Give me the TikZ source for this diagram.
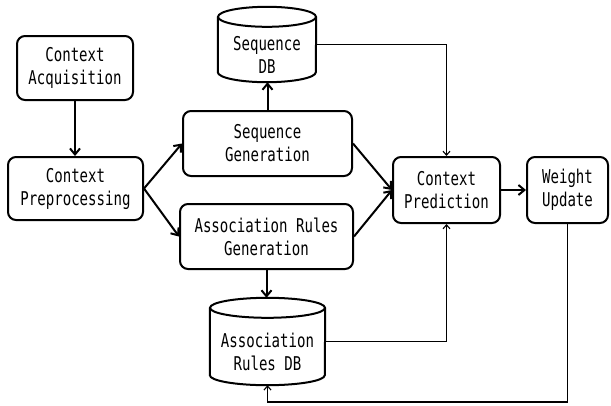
\documentclass[tikz,border=0pt]{standalone}
\usepackage{fontspec}
\newfontfamily\gothfont[FakeStretch=0.74]{DejaVu Sans Mono}
\usetikzlibrary{arrows.meta}
\begin{document}
\begin{tikzpicture}[x=1pt,y=-1pt,
  txt/.style={align=center, inner sep=0pt, font=\gothfont\fontsize{19}{23}\selectfont},
  box/.style={txt, draw, line width=2pt, rounded corners=8pt},
  cylarea/.style={draw=none, inner sep=0pt},
  cylline/.style={line width=2pt},
  thickarrow/.style={line width=2pt, -{Straight Barb[length=6pt,width=10pt]}},
  thinarrow/.style={line width=1.1pt, -{Straight Barb[length=4pt,width=7pt]}}
]
\useasboundingbox (0,0) rectangle (611,405);

\node[box, minimum width=116pt, minimum height=64pt] (acq) at (75,68) {Context\\Acquisition};
\node[box, minimum width=135pt, minimum height=63pt] (pre) at (75.5,188.5) {Context\\Preprocessing};
\node[box, minimum width=169pt, minimum height=65pt] (sg) at (267.5,143.5) {Sequence\\Generation};
\node[box, minimum width=173pt, minimum height=65pt] (ag) at (266.5,236.5) {Association Rules\\Generation};
\node[box, minimum width=107pt, minimum height=66pt] (cp) at (446.5,190) {Context\\Prediction};
\node[box, minimum width=81pt, minimum height=66pt] (wu) at (567.5,190) {Weight\\Update};

% Sequence DB cylinder
\node[cylarea, minimum width=98pt, minimum height=75pt] (sdb) at (267,44.5) {};
\draw[cylline] ([yshift=-10pt]sdb.north west) -- ([yshift=10pt]sdb.south west)
  arc[start angle=180, end angle=360, x radius=49pt, y radius=10pt]
  -- ([yshift=-10pt]sdb.north east);
\draw[cylline] ([yshift=-10pt]sdb.north) ellipse [x radius=49pt, y radius=10pt];
\node[txt] (sdbt) at ([yshift=-10pt]sdb.center) {Sequence\\DB};

% Association Rules DB cylinder
\node[cylarea, minimum width=115pt, minimum height=87pt] (adb) at (267.5,341.5) {};
\draw[cylline] ([yshift=-10pt]adb.north west) -- ([yshift=10pt]adb.south west)
  arc[start angle=180, end angle=360, x radius=57.5pt, y radius=10pt]
  -- ([yshift=-10pt]adb.north east);
\draw[cylline] ([yshift=-10pt]adb.north) ellipse [x radius=57.5pt, y radius=10pt];
\node[txt] (adbt) at ([yshift=-10pt]adb.center) {Association\\Rules DB};

% connectors
\draw[thickarrow] (acq.south) -- (acq.south |- pre.north);
\draw[thickarrow] (pre.east) -- (sg.west);
\draw[thickarrow] (pre.east) -- (ag.west);
\draw[thickarrow] (sg.east) -- (cp.west);
\draw[thickarrow] (ag.east) -- (cp.west);
\draw[thickarrow] (sg.north) -- (sg.north |- sdb.south);
\draw[thickarrow] (ag.south) -- (ag.south |- adb.north);
\draw[thickarrow] (cp.east) -- (wu.west);
\draw[thinarrow] (sdb.east) -| (cp.north);
\draw[thinarrow] (adb.east) -| (cp.south);
\coordinate (fb) at (570,402);
\draw[thinarrow] (wu.south) -- (wu.south |- fb) -| (adb.south);
\end{tikzpicture}
\end{document}
